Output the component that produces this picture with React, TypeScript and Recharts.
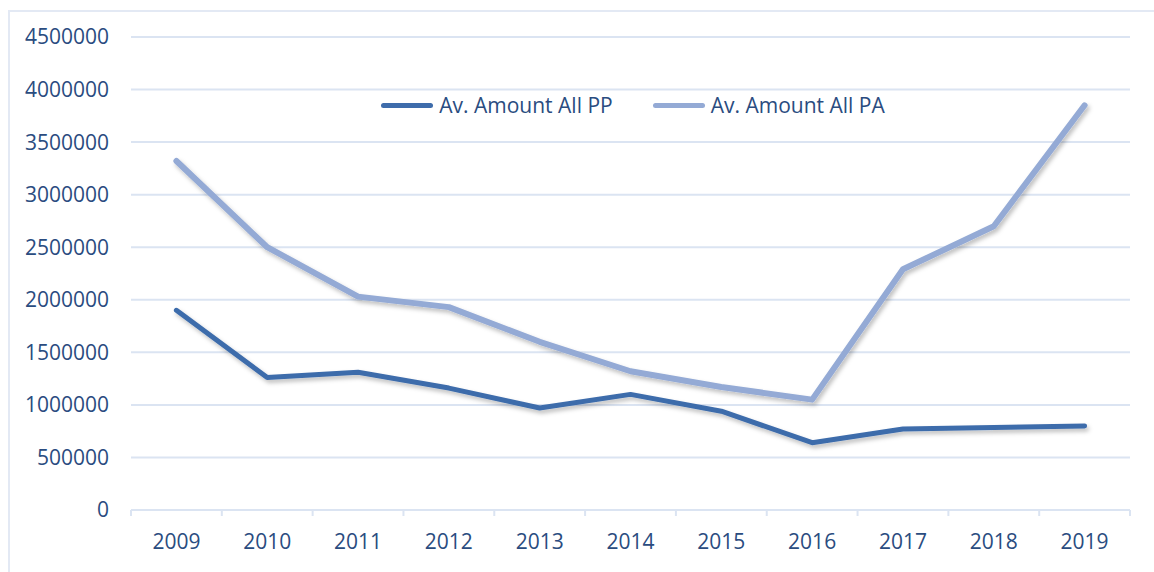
import { LineChart, Line, XAxis, YAxis, CartesianGrid, Legend } from 'recharts';

const years = ['2009', '2010', '2011', '2012', '2013', '2014', '2015', '2016', '2017', '2018', '2019'];
const amountPP = [1900000, 1260000, 1310000, 1160000, 970000, 1100000, 940000, 640000, 770000, 785000, 800000];
const amountPA = [3320000, 2500000, 2030000, 1930000, 1600000, 1320000, 1170000, 1050000, 2290000, 2700000, 3850000];
const yTicks = [0, 500000, 1000000, 1500000, 2000000, 2500000, 3000000, 3500000, 4000000, 4500000];

const data = years.map((year, i) => ({ year, pp: amountPP[i], pa: amountPA[i] }));

const textColor = '#2a4c80';
const gridColor = '#dbe4f2';
const ppColor = '#3e6cab';
const paColor = '#94aad5';
const font = '"Open Sans", "Noto Sans", sans-serif';
const halfBand = 45.4;

function LegendContent() {
  const items = [
    { label: 'Av. Amount All PP', color: ppColor },
    { label: 'Av. Amount All PA', color: paColor },
  ];
  return (
    <div style={{ display: 'flex', justifyContent: 'center', gap: 40, fontFamily: font, fontSize: 21, color: textColor, paddingLeft: 112 }}>
      {items.map((it) => (
        <div key={it.label} style={{ display: 'flex', alignItems: 'center' }}>
          <span style={{ display: 'inline-block', width: 52, height: 5, borderRadius: 3, background: it.color, marginRight: 6 }} />
          <span>{it.label}</span>
        </div>
      ))}
    </div>
  );
}

// year label centred in its band, with tick marks on the band edges
function YearTick(props: any) {
  const { x, y, payload, index } = props;
  const top = y - 18 - 6;
  return (
    <g>
      <line x1={x - halfBand} x2={x - halfBand} y1={top} y2={top + 6} stroke={gridColor} strokeWidth={2} />
      {index === years.length - 1 && (
        <line x1={x + halfBand} x2={x + halfBand} y1={top} y2={top + 6} stroke={gridColor} strokeWidth={2} />
      )}
      <text x={x} y={y} dy="0.71em" textAnchor="middle" fill={textColor} fontSize={21} fontFamily={font}>
        {payload.value}
      </text>
    </g>
  );
}

export default function App() {
  return (
    <div style={{ position: 'absolute', left: 0, top: 0, width: 1154, height: 572, background: '#fff', overflow: 'hidden' }}>
      <div
        style={{
          position: 'absolute',
          left: 8,
          top: 10,
          width: 1160,
          height: 600,
          borderLeft: '2px solid #e3e9f4',
          borderTop: '2px solid #e3e9f4',
        }}
      />
      <LineChart
        width={1154}
        height={572}
        data={data}
        margin={{ top: 37, right: 24, bottom: 22, left: 0 }}
        style={{ position: 'absolute', left: 0, top: 0 }}
      >
        <defs>
          <filter id="shadow" x="-10%" y="-10%" width="120%" height="130%">
            <feDropShadow dx="2" dy="3" stdDeviation="2" floodColor="#000" floodOpacity="0.25" />
          </filter>
        </defs>
        <CartesianGrid vertical={false} stroke={gridColor} strokeWidth={2} />
        <XAxis
          dataKey="year"
          height={40}
          stroke={gridColor}
          strokeWidth={2}
          padding={{ left: halfBand, right: halfBand }}
          interval={0}
          tickLine={false}
          tickSize={6}
          tickMargin={18}
          tick={<YearTick />}
        />
        <YAxis
          width={131}
          domain={[0, 4500000]}
          ticks={yTicks}
          interval={0}
          axisLine={false}
          tickLine={false}
          tickSize={0}
          tickMargin={22}
          tick={{ fill: textColor, fontSize: 21, fontFamily: font }}
        />
        <Legend
          verticalAlign="middle"
          align="center"
          content={<LegendContent />}
          wrapperStyle={{ top: 91, left: 0, width: 1154 }}
        />
        <Line
          dataKey="pp"
          name="Av. Amount All PP"
          stroke={ppColor}
          strokeWidth={5}
          strokeLinecap="round"
          strokeLinejoin="round"
          dot={false}
          filter="url(#shadow)"
          isAnimationActive={false}
        />
        <Line
          dataKey="pa"
          name="Av. Amount All PA"
          stroke={paColor}
          strokeWidth={6}
          strokeLinecap="round"
          strokeLinejoin="round"
          dot={false}
          filter="url(#shadow)"
          isAnimationActive={false}
        />
      </LineChart>
    </div>
  );
}
